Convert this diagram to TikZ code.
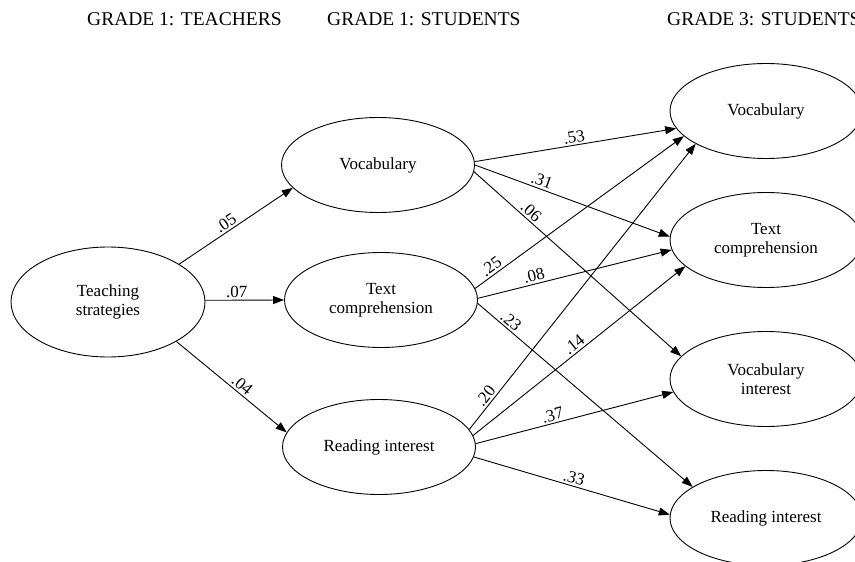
\documentclass[tikz,border=0pt]{standalone}
\usepackage{fontspec}
\setmainfont{Liberation Serif}
\usetikzlibrary{shapes.geometric,arrows.meta}
\begin{document}
\begin{tikzpicture}[x=1pt,y=-1pt,
  ell/.style={draw, ellipse, line width=0.9pt, inner sep=0pt, align=center,
    font=\fontsize{17}{19.5}\selectfont},
  midell/.style={ell, minimum width=193pt, minimum height=95pt},
  rell/.style={ell, minimum width=192pt, minimum height=95pt},
  hdr/.style={anchor=west, font=\fontsize{19.5}{22}\selectfont, inner sep=0pt},
  arr/.style={line width=0.9pt, -{Triangle[length=11pt,width=8pt]}},
  lbl/.style={sloped, above, inner sep=2pt, font=\fontsize{17}{19}\selectfont}
]
\useasboundingbox (0,0) rectangle (855,562);

\node[hdr] (h1) at (87,19) {GRADE 1: TEACHERS};
\node[hdr] (h2) at (327,19) {GRADE 1: STUDENTS};
\node[hdr] (h3) at (667,19) {GRADE 3: STUDENTS};

\node[ell, minimum width=194pt, minimum height=110pt] (T) at (108,302) {Teaching\\strategies};

\node[midell] (M1) at (378,165) {Vocabulary};
\node[midell] (M2) at (381,300) {Text\\comprehension};
\node[midell] (M3) at (379,447) {Reading interest};

\node[rell] (R1) at (766,111) {Vocabulary};
\node[rell] (R2) at (766,240) {Text\\comprehension};
\node[rell] (R3) at (766,379) {Vocabulary\\interest};
\node[rell] (R4) at (766,518) {Reading interest};

\draw[arr] (T.28) -- (M1.195) node[lbl, pos=0.45] {.05};
\draw[arr] (T.1) -- (M2.180) node[lbl, pos=0.4] {.07};
\draw[arr] (T.330) -- (M3.171) node[lbl, pos=0.55] {.04};

\draw[arr] (M1.2) -- (R1.191) node[lbl, pos=0.5] {.53};
\draw[arr] (M1.0) -- (R2.178) node[lbl, pos=0.33] {.31};
\draw[arr] (M1.356) -- (R3.165) node[lbl, pos=0.25] {.06};

\draw[arr] (M2.7) -- (R1.197) node[lbl, pos=0.1] {.25};
\draw[arr] (M2.1) -- (R2.186) node[lbl, pos=0.3] {.08};
\draw[arr] (M2.358) -- (R4.157) node[lbl, pos=0.13] {.23};

\draw[arr] (M3.11) -- (R1.205) node[lbl, pos=0.1] {.20};
\draw[arr] (M3.7) -- (R2.198) node[lbl, pos=0.5] {.14};
\draw[arr] (M3.2) -- (R3.188) node[lbl, pos=0.4] {.37};
\draw[arr] (M3.354) -- (R4.178) node[lbl, pos=0.5] {.33};
\end{tikzpicture}
\end{document}
